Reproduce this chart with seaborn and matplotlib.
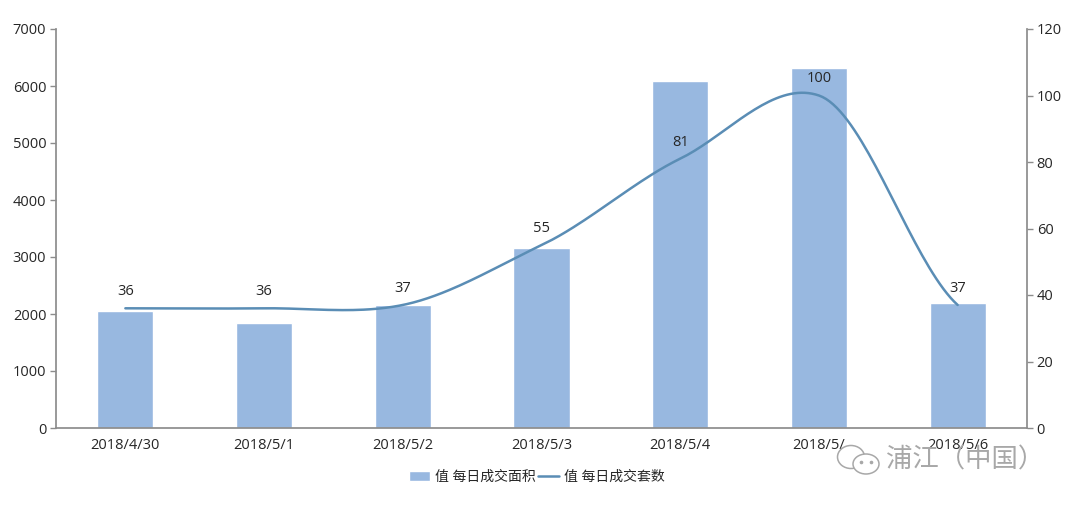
import numpy as np
import pandas as pd
import matplotlib
matplotlib.use("Agg")
import matplotlib.pyplot as plt
from matplotlib.patches import Ellipse
import seaborn as sns

dates = ["2018/4/30", "2018/5/1", "2018/5/2", "2018/5/3", "2018/5/4", "2018/5/5", "2018/5/6"]
area = [2060, 1850, 2150, 3150, 6090, 6320, 2200]
units = [36, 36, 37, 55, 81, 100, 37]
shown_dates = ["2018/4/30", "2018/5/1", "2018/5/2", "2018/5/3", "2018/5/4", "2018/5/", "2018/5/6"]
bar_label = "值 每日成交面积"
line_label = "值 每日成交套数"
watermark = "浦江（中国）"

sns.set_theme(style="white")
plt.rcParams["font.family"] = ["Open Sans", "Noto Sans CJK SC", "DejaVu Sans"]
BAR = "#98b8e0"
LINE = "#5a8db5"
AX = "#8c8c8c"
TXT = "#262626"
WM = "#a8a8a8"

df = pd.DataFrame({"date": dates, "area": area, "units": units})

fig = plt.figure(figsize=(10.8, 5.09), dpi=100, facecolor="white")
ax = fig.add_axes([56 / 1080, 1 - 428 / 509, (1027 - 56) / 1080, (428 - 29) / 509])
sns.barplot(data=df, x="date", y="area", color=BAR, saturation=1, width=0.405, ax=ax, label=bar_label)
ax.set_xlim(-0.5, 6.5)
ax.set_ylim(0, 7000)
ax.set_yticks(range(0, 7001, 1000))
ax.set_xticks(range(len(dates)))
ax.set_xticklabels(shown_dates)
ax.set_xlabel("")
ax.set_ylabel("")
if ax.legend_:
    ax.legend_.remove()

ax2 = ax.twinx()
# Spreadsheet-style smoothing: a cubic curve through each value, tangents from the neighbours
xp = np.arange(len(units), dtype=float)
yp = np.array(units, dtype=float)
tan = np.gradient(yp) * 0.9
tan[5] *= 0.72
tan[0] = (yp[1] - yp[0]) * 0.5
tan[-1] = (yp[-1] - yp[-2]) * 0.6
xs, ys = [], []
for i in range(len(xp) - 1):
    t = np.linspace(0, 1, 40)
    h00 = 2 * t**3 - 3 * t**2 + 1
    h10 = t**3 - 2 * t**2 + t
    h01 = -2 * t**3 + 3 * t**2
    h11 = t**3 - t**2
    xs.extend(xp[i] + t)
    ys.extend(h00 * yp[i] + h10 * tan[i] + h01 * yp[i + 1] + h11 * tan[i + 1])
sns.lineplot(x=xs, y=ys, color=LINE, linewidth=1.8, ax=ax2, label=line_label, sort=False, estimator=None)
ax2.set_ylim(0, 120)
ax2.set_yticks(range(0, 121, 20))
ax2.set_xlim(-0.5, 6.5)
ax2.set_ylabel("")
ax2.legend_.remove()

for a in (ax, ax2):
    a.grid(False)
    for s in a.spines.values():
        s.set_visible(False)
    a.tick_params(axis="y", length=4, width=1, color=AX, labelsize=10.5, labelcolor=TXT, pad=3, left=a is ax, right=a is ax2)
for s, owner in (("left", ax), ("bottom", ax), ("right", ax2)):
    owner.spines[s].set_visible(True)
    owner.spines[s].set_color(AX)
ax.tick_params(axis="x", length=0, labelsize=10.5, labelcolor=TXT, pad=7)

for i, v in enumerate(units):
    ax2.annotate(str(v), (i, v), xytext=(0, 12), textcoords="offset points", ha="center",
                 va="center", fontsize=10.5, color=TXT)

h1, _ = ax.get_legend_handles_labels()
h2, _ = ax2.get_legend_handles_labels()
fig.legend(h1 + h2, [bar_label, line_label], loc="center", bbox_to_anchor=(537 / 1080, 1 - 477 / 509),
           ncol=2, frameon=False, fontsize=10, labelcolor=TXT, columnspacing=0.2, handlelength=1.5,
           handletextpad=0.35)

# Watermark
fig.text(965 / 1080, 1 - 461 / 509, watermark, ha="center", va="center", fontsize=19, color=WM, zorder=10)
ov = fig.add_axes([0, 0, 1, 1], facecolor="none")
ov.set_xlim(0, 1080)
ov.set_ylim(509, 0)
ov.axis("off")
ov.add_patch(Ellipse((851, 457), 27, 23, fill=False, ec=WM, lw=1.1))
ov.add_patch(Ellipse((866, 464), 26, 20, ec=WM, lw=1.1, fc="white"))
ov.plot([861, 871], [462, 462], ls="none", marker="o", ms=1.6, color=WM)
fig.savefig("out.png", dpi=100, facecolor="white")
